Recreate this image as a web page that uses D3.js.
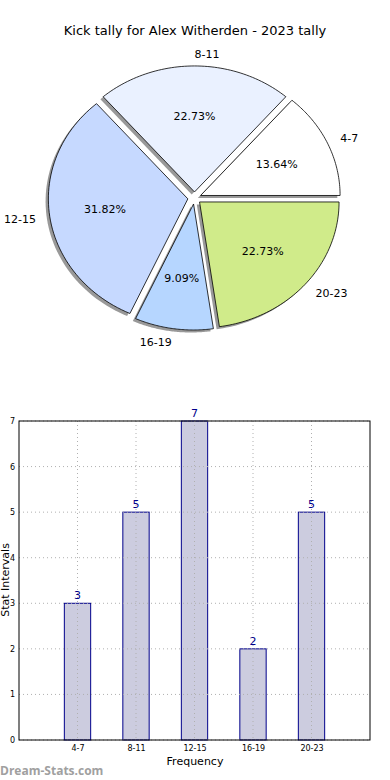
<!DOCTYPE html>
<html><head><meta charset="utf-8">
<script src="https://cdn.jsdelivr.net/npm/d3@7"></script>
<style>body{margin:0;background:#fff}svg{display:block;font-family:"DejaVu Sans",sans-serif}</style>
</head><body><svg id="c" width="390" height="780"></svg>
<script>
const categories = ["4-7","8-11","12-15","16-19","20-23"];
const counts = [3,5,7,2,5];
const sliceColors = ["#ffffff","#eaf1ff","#c6d9ff","#b6d6ff","#d0eb8a"];
const yTicks = [0,1,2,3,4,5,6,7];
const title = "Kick tally for Alex Witherden - 2023 tally";

const svg = d3.select("#c");
svg.append("text").attr("x",195).attr("y",35).attr("text-anchor","middle")
  .attr("font-size",13).text(title);

// ---- Pie (matplotlib style: start at 0°, counter-clockwise, elliptical) ----
const cx=194.5, cy=198, Rx=139.5, Ry=126, explode=0.048;
const total = d3.sum(counts);
const angleScale = d3.scaleLinear().domain([0,total]).range([0,2*Math.PI]);
const sx = d3.scaleLinear().domain([-1,1]).range([cx-Rx,cx+Rx]);
const sy = d3.scaleLinear().domain([-1,1]).range([cy+Ry,cy-Ry]);
let cum=0;
const slices = counts.map((v,i)=>{const a0=angleScale(cum); cum+=v; const a1=angleScale(cum); return {i,v,a0,a1,mid:(a0+a1)/2};});
function slicePath(s,dx,dy){
  const ox=explode*Math.cos(s.mid)+dx, oy=explode*Math.sin(s.mid)+dy;
  const n=60; const pts=[[sx(ox),sy(oy)]];
  for(let k=0;k<=n;k++){const a=s.a0+(s.a1-s.a0)*k/n; pts.push([sx(ox+Math.cos(a)),sy(oy+Math.sin(a))]);}
  return d3.line()(pts)+"Z";
}
const pieG = svg.append("g");
slices.forEach(s=>{
  pieG.append("path").attr("d",slicePath(s,-0.02,-0.02)).attr("fill","#000").attr("opacity",0.4);
});
slices.forEach(s=>{
  pieG.append("path").attr("d",slicePath(s,0,0)).attr("fill",sliceColors[s.i]).attr("stroke","#000").attr("stroke-width",0.8);
});
slices.forEach(s=>{
  const ox=explode*Math.cos(s.mid), oy=explode*Math.sin(s.mid);
  pieG.append("text").attr("x",sx(ox+0.6*Math.cos(s.mid))).attr("y",sy(oy+0.6*Math.sin(s.mid)))
    .attr("text-anchor","middle").attr("dominant-baseline","central").attr("font-size",11)
    .text((s.v/total*100).toFixed(2)+"%");
  const lx=ox+1.1*Math.cos(s.mid), ly=oy+1.1*Math.sin(s.mid);
  pieG.append("text").attr("x",sx(lx)).attr("y",sy(ly)+1)
    .attr("text-anchor",Math.cos(s.mid)>0?"start":"end").attr("dominant-baseline","central").attr("font-size",11)
    .text(categories[s.i]);
});

// ---- Bar chart ----
const L=19,R=370,T=421,B=740;
const x = d3.scaleLinear().domain([-1,5]).range([L,R]);
const y = d3.scaleLinear().domain([0,7]).range([B,T]);
const bw = 0.45;
const g = svg.append("g");
g.selectAll("rect.bar").data(counts).join("rect").attr("class","bar")
  .attr("x",(d,i)=>x(i-bw/2)).attr("width",x(bw)-x(0))
  .attr("y",d=>y(d)).attr("height",d=>y(0)-y(d))
  .attr("fill","#ccccdf").attr("stroke","#00008b").attr("stroke-width",1);
// grid
g.selectAll("line.gy").data(yTicks).join("line").attr("x1",L).attr("x2",R)
  .attr("y1",d=>y(d)).attr("y2",d=>y(d)).attr("stroke","#b0b0b0").attr("stroke-dasharray","1,3");
g.selectAll("line.gx").data(categories).join("line").attr("x1",(d,i)=>x(i)).attr("x2",(d,i)=>x(i))
  .attr("y1",T).attr("y2",B).attr("stroke","#b0b0b0").attr("stroke-dasharray","1,3");
g.append("rect").attr("x",L).attr("y",T).attr("width",R-L).attr("height",B-T)
  .attr("fill","none").attr("stroke","#000").attr("stroke-width",1);
// axes
const yAxis = d3.axisLeft(y).tickValues(yTicks).tickSize(0).tickPadding(4).tickFormat(d3.format("d"));
const ya = svg.append("g").attr("transform",`translate(${L},0)`).call(yAxis);
ya.select(".domain").remove();
ya.selectAll("text").attr("font-size",8).attr("font-family","DejaVu Sans, sans-serif");
const xAxis = d3.axisBottom(x).tickValues(d3.range(categories.length)).tickFormat(i=>categories[i]).tickSize(0).tickPadding(5);
const xa = svg.append("g").attr("transform",`translate(0,${B})`).call(xAxis);
xa.select(".domain").remove();
xa.selectAll("text").attr("font-size",8).attr("font-family","DejaVu Sans, sans-serif");
// value labels
g.selectAll("text.val").data(counts).join("text").attr("class","val")
  .attr("x",(d,i)=>x(i)).attr("y",d=>y(d)-4).attr("text-anchor","middle")
  .attr("font-size",11).attr("fill","#00008b").text(d=>d);
svg.append("text").attr("x",195).attr("y",765).attr("text-anchor","middle").attr("font-size",11).text("Frequency");
svg.append("text").attr("transform","translate(9,580) rotate(-90)").attr("text-anchor","middle")
  .attr("font-size",11).text("Stat Intervals");
svg.append("text").attr("x",0).attr("y",775).attr("font-size",12).attr("font-weight","bold")
  .attr("fill","#a0a0a0").attr("font-family","Open Sans, sans-serif").text("Dream-Stats.com");
</script></body></html>
